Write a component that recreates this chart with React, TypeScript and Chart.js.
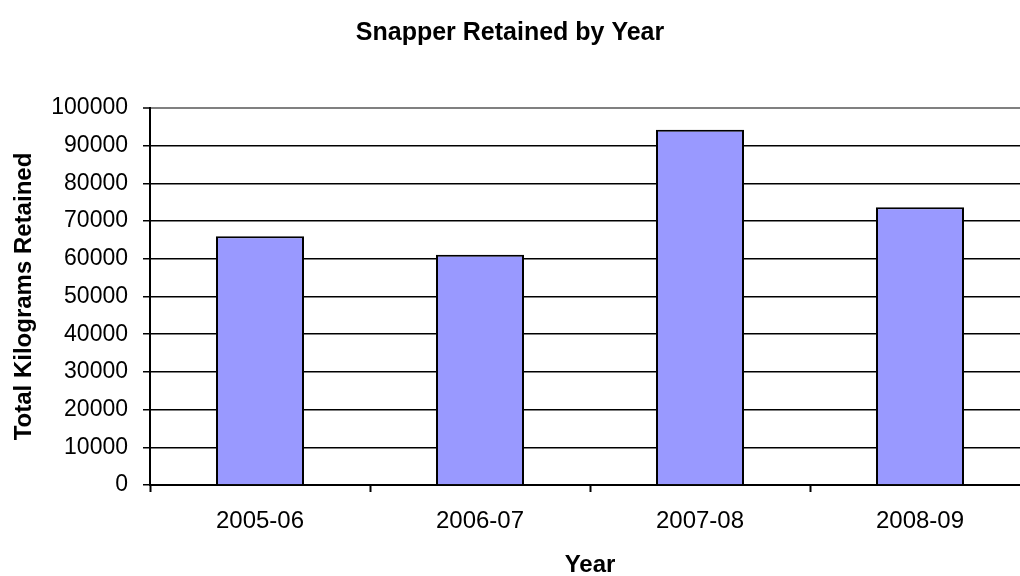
import React, { useEffect, useRef } from "react";
import { Chart, registerables } from "chart.js";

Chart.register(...registerables);

// Snapper catch retained per financial year (kg)
const years: string[] = ["2005-06", "2006-07", "2007-08", "2008-09"];
const kilogramsRetained: number[] = [66000, 61100, 94200, 73700];

const chartTitle = "Snapper Retained by Year";
const xAxisTitle = "Year";
const yAxisTitle = "Total Kilograms Retained";

const yMin = 0;
const yMax = 100000;
const yStep = 10000;

const FONT = "Arial, 'Liberation Sans', sans-serif";

// Visible frame; the canvas is a little larger and the plot runs off the right edge.
const FRAME_W = 1020;
const FRAME_H = 576;
const CANVAS_W = 1040;
const CANVAS_H = 600;

// Draws the chart heading centred on the visible frame.
const headingPlugin = {
  id: "heading",
  afterDraw(chart: Chart) {
    const ctx = chart.ctx;
    ctx.save();
    ctx.font = `bold 25px ${FONT}`;
    ctx.fillStyle = "#000000";
    ctx.textAlign = "center";
    ctx.textBaseline = "middle";
    ctx.fillText(chartTitle, FRAME_W / 2, 33);
    ctx.restore();
  },
};

export default function App() {
  const canvasRef = useRef<HTMLCanvasElement | null>(null);

  useEffect(() => {
    const canvas = canvasRef.current;
    if (!canvas) return;
    Chart.defaults.font.family = FONT;

    const chart = new Chart(canvas, {
      type: "bar",
      data: {
        labels: years,
        datasets: [
          {
            label: "Kilograms retained",
            data: kilogramsRetained,
            backgroundColor: "#9999FF",
            borderColor: "#000000",
            borderWidth: 2,
            categoryPercentage: 1,
            barPercentage: 0.4,
          },
        ],
      },
      options: {
        animation: false,
        responsive: false,
        devicePixelRatio: 1,
        layout: { padding: { left: 0, top: 108, right: 10, bottom: 0 } },
        plugins: {
          legend: { display: false },
          title: { display: false },
          tooltip: { enabled: false },
        },
        scales: {
          x: {
            offset: true,
            grid: {
              offset: true,
              drawOnChartArea: false,
              drawTicks: true,
              tickLength: 7,
              tickColor: "#000000",
              tickWidth: 2,
            },
            border: { display: true, color: "#000000", width: 2 },
            ticks: {
              color: "#000000",
              font: { size: 24 },
              padding: 15,
              maxRotation: 0,
            },
            title: {
              display: true,
              text: xAxisTitle,
              color: "#000000",
              font: { size: 24, weight: "bold" },
              padding: { top: 0, bottom: 20 },
            },
            afterFit(scale: any) {
              scale.height = 115;
            },
          },
          y: {
            min: yMin,
            max: yMax,
            grid: {
              color: (c: any) => (c.tick && c.tick.value === yMax ? "#808080" : "#000000"),
              lineWidth: (c: any) => (c.tick && c.tick.value === yMax ? 2 : 1.5),
              drawTicks: true,
              tickLength: 7,
              tickColor: "#000000",
              tickWidth: 1.5,
            },
            border: { display: true, color: "#000000", width: 2 },
            ticks: {
              stepSize: yStep,
              color: "#000000",
              font: { size: 23 },
              padding: 15,
              callback: (value: any) => String(value),
            },
            title: {
              display: true,
              text: yAxisTitle,
              color: "#000000",
              font: { size: 24, weight: "bold" },
              padding: { top: 10, bottom: 0 },
            },
            afterFit(scale: any) {
              scale.width = 150;
            },
          },
        },
      },
      plugins: [headingPlugin],
    });

    return () => chart.destroy();
  }, []);

  return (
    <div
      style={{
        position: "fixed",
        left: 0,
        top: 0,
        width: FRAME_W,
        height: FRAME_H,
        overflow: "hidden",
        background: "#ffffff",
      }}
    >
      <canvas
        ref={canvasRef}
        width={CANVAS_W}
        height={CANVAS_H}
        style={{ display: "block", width: CANVAS_W, height: CANVAS_H }}
      />
    </div>
  );
}
